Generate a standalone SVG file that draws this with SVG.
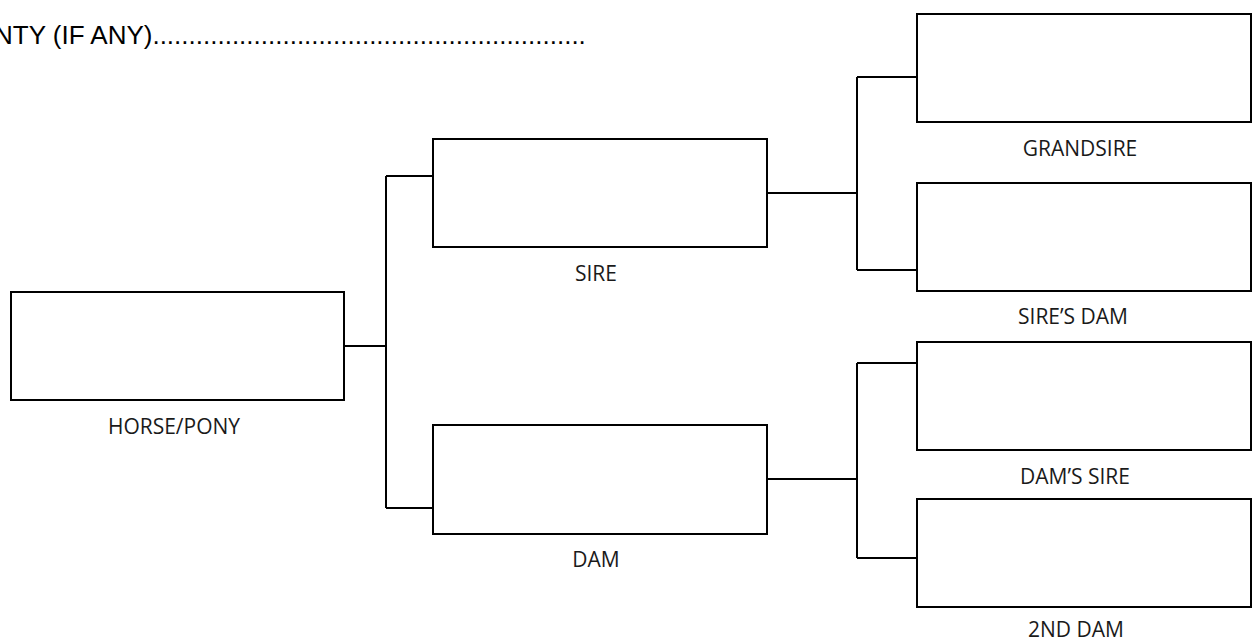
<svg xmlns="http://www.w3.org/2000/svg" width="1254" height="640" viewBox="0 0 1254 640">
<style>
.box{fill:#fff;stroke:#000;stroke-width:2}
.conn{fill:none;stroke:#000;stroke-width:2}
.lbl{font-family:"Open Sans","Noto Sans",sans-serif;font-size:21px;fill:#1a1a1a;text-anchor:middle}
.top{font-family:"Liberation Sans",Arial,sans-serif;font-size:26px;fill:#000}
</style>
<rect width="1254" height="640" fill="#fff"/>
<text class="top" x="-6" y="44">NTY (IF ANY)............................................................</text>
<g id="connectors">
<path class="conn" d="M344 346H386M386 176V508M386 176H433M386 508H433"/>
<path class="conn" d="M767 193H857M857 77V270M857 77H917M857 270H917"/>
<path class="conn" d="M767 479H857M857 363V558M857 363H917M857 558H917"/>
</g>
<g id="horse"><rect class="box" x="11" y="292" width="333" height="108"/><text class="lbl" x="174" y="434">HORSE/PONY</text></g>
<g id="sire"><rect class="box" x="433" y="139" width="334" height="108"/><text class="lbl" x="596" y="281">SIRE</text></g>
<g id="dam"><rect class="box" x="433" y="425" width="334" height="109"/><text class="lbl" x="596" y="567">DAM</text></g>
<g id="grandsire"><rect class="box" x="917" y="14" width="334" height="108"/><text class="lbl" x="1080" y="156">GRANDSIRE</text></g>
<g id="siresdam"><rect class="box" x="917" y="183" width="334" height="108"/><text class="lbl" x="1073" y="324">SIRE’S DAM</text></g>
<g id="damssire"><rect class="box" x="917" y="342" width="334" height="108"/><text class="lbl" x="1075" y="484">DAM’S SIRE</text></g>
<g id="seconddam"><rect class="box" x="917" y="499" width="334" height="108"/><text class="lbl" x="1076" y="637">2ND DAM</text></g>
</svg>
